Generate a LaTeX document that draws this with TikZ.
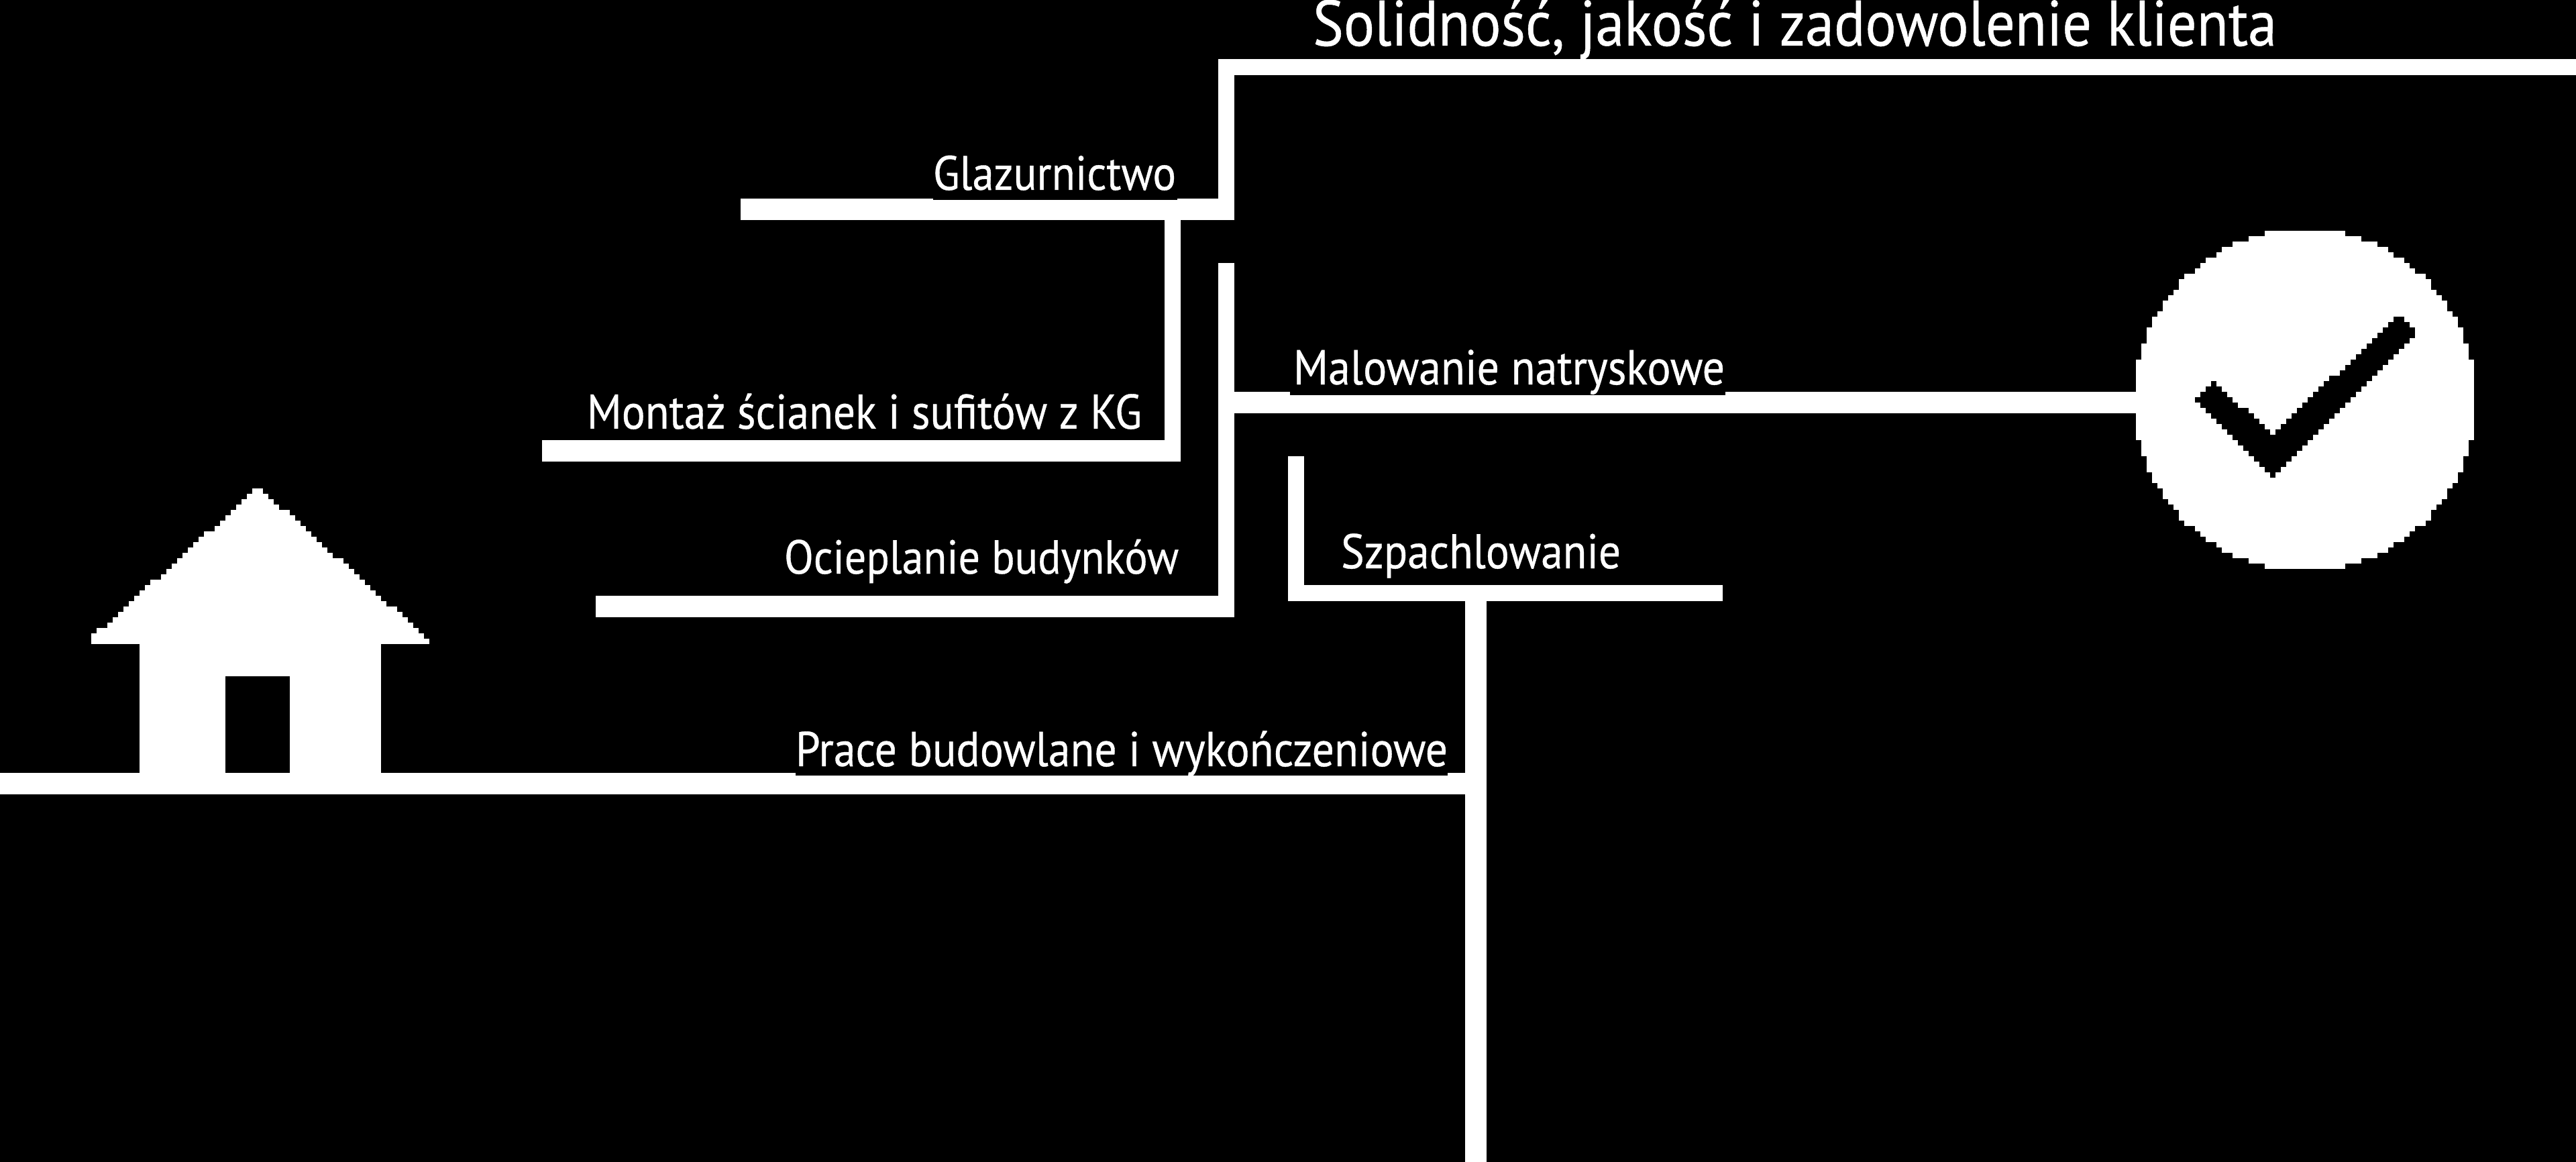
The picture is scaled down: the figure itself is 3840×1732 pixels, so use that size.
\documentclass[tikz,border=0pt]{standalone}
\usepackage{fontspec}
\usepackage{graphicx}
\setmainfont[FakeStretch=0.9,FakeBold=0.5]{PT Sans}
\newdimen\pxu \pxu=0.25pt
\newcommand{\lab}[2]{\resizebox{#1\pxu}{!}{#2}}
\tikzset{
  thin rail/.style={line width=6pt,white,line cap=butt,line join=miter},
  thick rail/.style={line width=8pt,white,line cap=butt,line join=miter},
  solid shape/.style={fill=white,draw=none},
  cut shape/.style={fill=black,draw=none},
  caption/.style={anchor=base west,inner sep=0pt,outer sep=0pt,text=white,font=\fontsize{24pt}{28pt}\selectfont}
}
\begin{document}
\begin{tikzpicture}[x=0.25pt,y=-0.25pt]
\useasboundingbox (0,0) rectangle (3840,1732);
\fill[black] (0,0) rectangle (3840,1732);
% rails
\coordinate (g0) at (0,1168);
\coordinate (g1) at (2200,1168);
\coordinate (g2) at (2200,1732);
\coordinate (g3) at (2200,884);
\coordinate (s0) at (1932,680);
\coordinate (s1) at (1932,884);
\coordinate (s2) at (2568,884);
\coordinate (t0) at (3840,100);
\coordinate (t1) at (1828,100);
\coordinate (t2) at (1828,312);
\coordinate (t3) at (1104,312);
\coordinate (t4) at (1840,312);
\coordinate (m0) at (1748,312);
\coordinate (m1) at (1748,672);
\coordinate (m2) at (808,672);
\coordinate (m3) at (1760,672);
\coordinate (o0) at (1828,392);
\coordinate (o1) at (1828,904);
\coordinate (o2) at (888,904);
\coordinate (o3) at (1840,904);
\coordinate (p0) at (1828,600);
\coordinate (p1) at (3184,600);
\draw[thick rail] (g0) -- (g1);
\draw[thick rail] (g3) -- (g2);
\draw[thin rail] (s0) -- (s1) -- (s2);
\draw[thin rail] (t0) -- (t1) -- (t2);
\draw[thick rail] (t4) -- (t3);
\draw[thin rail] (m0) -- (m1);
\draw[thick rail] (m3) -- (m2);
\draw[thin rail] (o0) -- (o1);
\draw[thick rail] (o3) -- (o2);
\draw[thick rail] (p0) -- (p1);
% text shadows biting into the rails
\fill[black] (1186,1152) rectangle (2158,1156);
\fill[black] (1923,584) rectangle (2572,589);
\fill[black] (1391,296) rectangle (1755,298);
% house, in rows of 8 px
\foreach \i in {0,...,28}{
  \pgfmathsetmacro\xl{max(136,376-8*\i-8*floor((\i+1)/9))}
  \pgfmathsetmacro\xr{392+8*\i+8*floor((\i+5)/9)}
  \pgfmathsetmacro\yt{728+8*\i}
  \path[solid shape] (\xl,\yt) rectangle (\xr,\yt+8.3);
}
\path[solid shape] (208,960) rectangle (568,1152);
\path[cut shape] (336,1008) rectangle (432,1152);
% check circle, in rows of 8 px
\foreach \y in {344,352,...,840}{
  \pgfmathsetmacro\dd{(\y+4-596)/100}
  \pgfmathsetmacro\hw{100*sqrt(6.5025-\dd*\dd)}
  \pgfmathsetmacro\xl{8*round((3436-\hw)/8)}
  \pgfmathsetmacro\xr{8*round((3436+\hw)/8)}
  \path[solid shape] (\xl,\y) rectangle (\xr,\y+8.3);
}
% check mark
\foreach \y in {472,480,...,704}{
  \pgfmathsetmacro\xa{8*round((3568-(\y-472)*1.0476)/8)}
  \pgfmathsetmacro\xb{min(3584+\y-472,3392+704-\y)}
  \ifnum\y<568
    \path[cut shape] (\xa,\y) rectangle (\xb,\y+8.3);
  \else
    \pgfmathsetmacro\xl{max(3296-(\y-568),3272+\y-592)}
    \pgfmathsetmacro\xm{min(8*round((3304+(\y-568)*1.111)/8),\xb)}
    \pgfmathsetmacro\xc{max(\xa,\xl)}
    \path[cut shape] (\xc,\y) rectangle (\xb,\y+8.3);
    \path[cut shape] (\xl,\y) rectangle (\xm,\y+8.3);
  \fi
}
% captions
\node[caption] (title) at (1957,68) {\lab{1437}{Solidność, jakość i zadowolenie klienta}};
\node[caption] (glaz) at (1391,283) {\lab{362}{Glazurnictwo}};
\node[caption] (mont) at (875,639) {\lab{827}{Montaż ścianek i sufitów z KG}};
\node[caption] (ocie) at (1169,855) {\lab{588}{Ocieplanie budynków}};
\node[caption] (malo) at (1928,573) {\lab{643}{Malowanie natryskowe}};
\node[caption] (szpa) at (1999,847) {\lab{417}{Szpachlowanie}};
\node[caption] (prac) at (1186,1142) {\lab{972}{Prace budowlane i wykończeniowe}};
\end{tikzpicture}
\end{document}
